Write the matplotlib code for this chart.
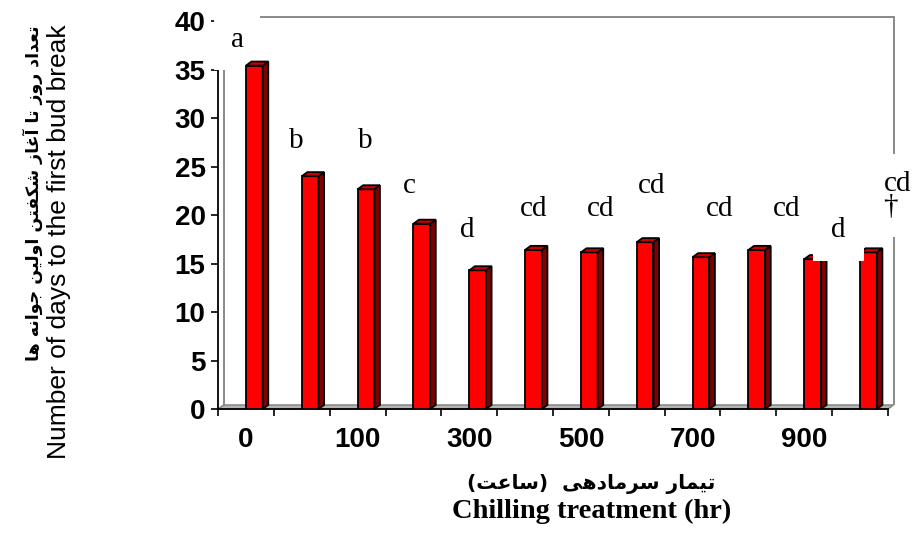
import matplotlib
matplotlib.use('Agg')
import matplotlib.pyplot as plt
from matplotlib.patches import Polygon

# chilling hours (only every other one is labelled on the axis)
hours = ['0', '50', '100', '200', '300', '400', '500', '600', '700', '800', '900', '1000']
days = [35.4, 24.0, 22.65, 19.1, 14.3, 16.4, 16.15, 17.2, 15.65, 16.4, 15.45, 16.15]
letters = ['a', 'b', 'b', 'c', 'd', 'cd', 'cd', 'cd', 'cd', 'cd', 'd', 'cd\n\u2020']
yticks = [0, 5, 10, 15, 20, 25, 30, 35, 40]

# where the letters sit (x in category units, y = baseline of last line)
label_x = [-0.16, 0.91, 2.13, 2.93, 3.96, 5.16, 6.35, 7.26, 8.48, 9.68, 10.61, 11.42]
label_y = [37.3, 26.9, 26.9, 22.3, 17.7, 19.85, 19.85, 22.3, 19.85, 19.85, 17.7, 20.1]

ylab_fa = 'تعداد روز تا آغاز شکفتن اولین جوانه ها'
ylab_en = 'Number of days to the first bud break'
xlab_fa = 'تیمار سرمادهی  (ساعت)'
xlab_en = 'Chilling treatment (hr)'

# no arabic shaping in matplotlib -> use presentation forms, visual order
FORMS = {
    'ا': ('\uFE8D', '\uFE8E', None, None),
    'آ': ('\uFE81', '\uFE82', None, None),
    'د': ('\uFEA9', '\uFEAA', None, None),
    'ر': ('\uFEAD', '\uFEAE', None, None),
    'ز': ('\uFEAF', '\uFEB0', None, None),
    'و': ('\uFEED', '\uFEEE', None, None),
    'ت': ('\uFE95', '\uFE96', '\uFE97', '\uFE98'),
    'ع': ('\uFEC9', '\uFECA', '\uFECB', '\uFECC'),
    'غ': ('\uFECD', '\uFECE', '\uFECF', '\uFED0'),
    'ش': ('\uFEB5', '\uFEB6', '\uFEB7', '\uFEB8'),
    'س': ('\uFEB1', '\uFEB2', '\uFEB3', '\uFEB4'),
    'ک': ('\uFED9', '\uFEDA', '\uFEDB', '\uFEDC'),
    'ف': ('\uFED1', '\uFED2', '\uFED3', '\uFED4'),
    'ن': ('\uFEE5', '\uFEE6', '\uFEE7', '\uFEE8'),
    'ل': ('\uFEDD', '\uFEDE', '\uFEDF', '\uFEE0'),
    'ی': ('\uFEEF', '\uFEF0', '\uFEF3', '\uFEF4'),
    'ج': ('\uFE9D', '\uFE9E', '\uFE9F', '\uFEA0'),
    'ه': ('\uFEE9', '\uFEEA', '\uFEEB', '\uFEEC'),
    'م': ('\uFEE1', '\uFEE2', '\uFEE3', '\uFEE4'),
}


def shape(s):
    out = []
    for k, c in enumerate(s):
        if c not in FORMS:
            out.append(c)
            continue
        prev = s[k - 1] if k > 0 else ''
        nxt = s[k + 1] if k + 1 < len(s) else ''
        cp = prev in FORMS and FORMS[prev][2] is not None
        cn = FORMS[c][2] is not None and nxt in FORMS
        if cp and cn:
            out.append(FORMS[c][3])
        elif cp:
            out.append(FORMS[c][1])
        elif cn:
            out.append(FORMS[c][2])
        else:
            out.append(FORMS[c][0])
    vis = ''.join(out)[::-1]
    return vis.translate(str.maketrans('()', ')('))


fig = plt.figure(figsize=(9.13, 5.33), dpi=100)
ax = fig.add_axes([0.2388, 0.2326, 0.7338, 0.728])

bar_w = 0.3
dx, dy = 0.1, 0.42
n = len(days)

# back wall frame + floor
wall = [(-0.5 + dx, dy), (-0.5 + dx, 40 + dy), (n - 0.5 + dx, 40 + dy), (n - 0.5 + dx, dy)]
ax.add_patch(Polygon(wall, closed=False, fill=False, ec='#808080', lw=1.3, zorder=1, clip_on=False))
floor = [(-0.5, 0), (n - 0.5, 0), (n - 0.5 + dx, dy), (-0.5 + dx, dy)]
ax.add_patch(Polygon(floor, fc='#b4b4b4', ec='#808080', lw=1.0, zorder=1, clip_on=False))

xs = list(range(n))
ax.bar(xs, days, width=bar_w, align='edge', color='#ff0000', edgecolor='black', lw=1.3, zorder=4)
for i, v in zip(xs, days):
    x1 = i + bar_w
    side = [(x1, 0), (x1 + dx, dy), (x1 + dx, v + dy), (x1, v)]
    top = [(i, v), (x1, v), (x1 + dx, v + dy), (i + dx, v + dy)]
    ax.add_patch(Polygon(side, fc='#800000', ec='black', lw=1.3, zorder=4, clip_on=False))
    ax.add_patch(Polygon(top, fc='#cc0000', ec='black', lw=1.3, zorder=4, clip_on=False))

for i, lab in enumerate(letters):
    on_top = (i == 10)
    ax.text(label_x[i], label_y[i], lab, family='Liberation Serif', fontsize=21,
            ha='left' if '\n' in lab else 'center', va='baseline', multialignment='left',
            linespacing=0.85, zorder=6 if on_top else 3,
            bbox=dict(boxstyle='square,pad=%s' % (0.62 if on_top else 0.58), fc='white', ec='none'))

ax.set_xlim(-0.5, n - 0.5)
ax.set_ylim(0, 40)
ax.set_yticks(yticks)
ax.set_xticks(xs[::2])
ax.set_xticklabels(hours[::2])
ax.set_xticks([i + 0.5 for i in range(-1, n)], minor=True)
ax.tick_params(axis='x', which='major', length=0, pad=13)
ax.tick_params(axis='x', which='minor', direction='out', length=5, width=1.2, color='black')
ax.tick_params(axis='y', direction='out', length=5, width=1.2, pad=4)
for t in ax.get_xticklabels() + ax.get_yticklabels():
    t.set_family('Liberation Sans')
    t.set_fontweight('bold')
    t.set_fontsize(20)

for s in ['top', 'right']:
    ax.spines[s].set_visible(False)
for s in ['left', 'bottom']:
    ax.spines[s].set_linewidth(1.3)
    ax.spines[s].set_color('black')
ax.patch.set_alpha(0)

fig.text(33 / 913, 0.638, shape(ylab_fa), rotation=90, ha='center', va='center',
         family='DejaVu Sans', fontweight='bold', fontsize=12.5)
fig.text(59 / 913, 0.546, ylab_en, rotation=90, ha='center', va='center',
         family='Liberation Sans', fontsize=19)
fig.text(0.648, 0.092, shape(xlab_fa), ha='center', va='center',
         family='DejaVu Sans', fontweight='bold', fontsize=14.5)
fig.text(0.648, 0.041, xlab_en, ha='center', va='center',
         family='Liberation Serif', fontweight='bold', fontsize=20.5)

fig.savefig('out.png', dpi=100)
